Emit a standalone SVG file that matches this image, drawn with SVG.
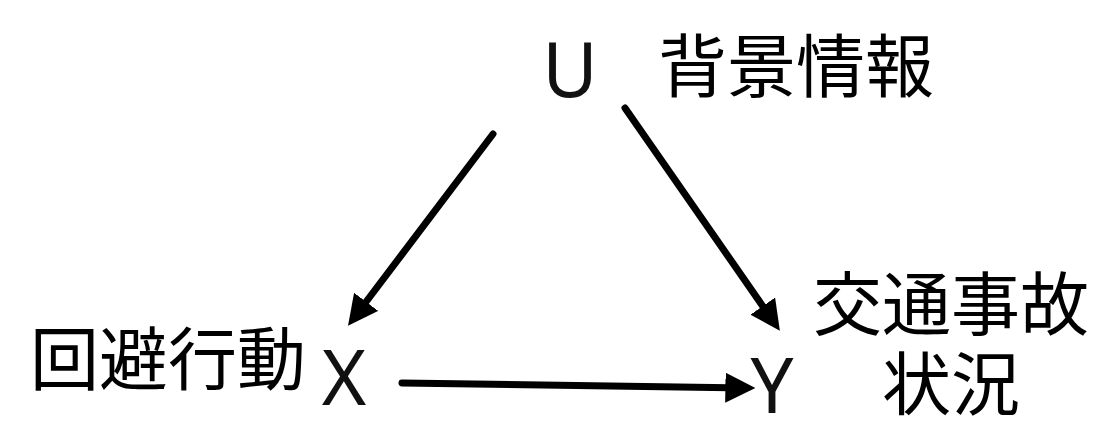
<svg xmlns="http://www.w3.org/2000/svg" width="1097" height="422" viewBox="0 0 1097 422">
<defs>
<style>
.lat{font-family:"Noto Sans","DejaVu Sans",sans-serif;font-size:76px;fill:#111}
.cjk{font-family:"Noto Sans CJK JP","Noto Sans CJK SC",sans-serif;font-size:69px;fill:#000}
.edge{stroke:#000;stroke-width:7;stroke-linecap:round;fill:none;marker-end:url(#ah)}
</style>
<marker id="ah" markerUnits="userSpaceOnUse" markerWidth="30" markerHeight="30" viewBox="0 0 26 26" refX="4" refY="13" orient="auto">
<path d="M0,0 L26,13 L0,26 z" fill="#000"/>
</marker>
</defs>
<rect width="1097" height="422" fill="#fff"/>
<g id="connectors">
<line class="edge" x1="493" y1="134" x2="363.3" y2="305.5"/>
<line class="edge" x1="625" y1="108" x2="765.4" y2="309.9"/>
<line class="edge" x1="402" y1="383" x2="730" y2="387.7"/>
</g>
<g id="U">
<text class="lat" x="570" y="97" text-anchor="middle">U</text>
<text class="cjk" x="796" y="92" text-anchor="middle">背景情報</text>
</g>
<g id="X">
<text class="lat" x="344" y="405" text-anchor="middle">X</text>
<text class="cjk" x="168" y="385" text-anchor="middle">回避行動</text>
</g>
<g id="Y">
<text class="lat" x="772" y="413" text-anchor="middle">Y</text>
<text class="cjk" x="951" y="330" text-anchor="middle">交通事故</text>
<text class="cjk" x="951" y="410" text-anchor="middle">状況</text>
</g>
</svg>
